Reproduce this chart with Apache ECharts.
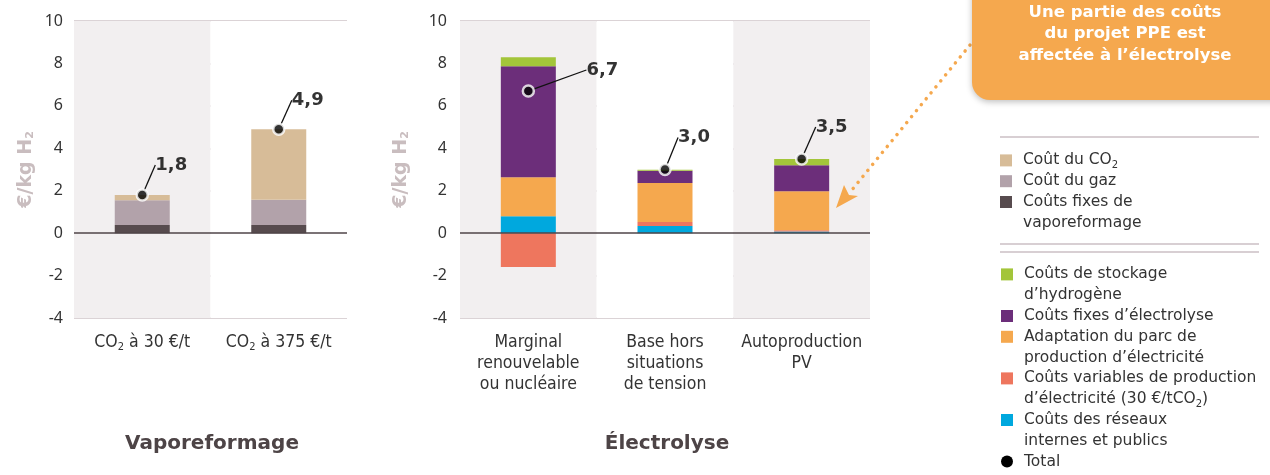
<!DOCTYPE html>
<html>
<head>
<meta charset="utf-8">
<script src="https://cdn.jsdelivr.net/npm/echarts@6/dist/echarts.min.js"></script>
<style>
  html, body { margin: 0; padding: 0; background: #fff; }
  #main { width: 1270px; height: 475px; }
</style>
</head>
<body>
<div id="main"></div>
<script>
// Vaporeformage
const vapoCats = ['CO2 à 30 €/t', 'CO2 à 375 €/t']
const vapoFixes = [0.38, 0.38]
const vapoGaz = [1.17, 1.19]
const vapoCO2 = [0.25, 3.33]
const vapoTotal = [1.8, 4.9]

// Electrolyse
const elecCats = ['Marginal\nrenouvelable\nou nucléaire', 'Base hors\nsituations\nde tension', 'Autoproduction\nPV']
const elecReseaux = [0.8, 0.34, 0.08]
const elecVariables = [-1.6, 0.19, 0.06]
const elecAdaptation = [1.84, 1.83, 1.84]
const elecFixes = [5.23, 0.58, 1.22]
const elecStockage = [0.42, 0.05, 0.3]
const elecTotal = [6.7, 3.0, 3.5]

const yMin = -4, yMax = 10, yStep = 2

const vapoNames = ['Coût du CO2', 'Coût du gaz', 'Coûts fixes de vaporeformage']
const vapoColors = ['#d7bc98', '#b2a2aa', '#574b4e']
const vapoLegendLines = [['Coût du CO{sub|2}'], ['Coût du gaz'], ['Coûts fixes de', 'vaporeformage']]

const elecNames = ['Coûts de stockage d’hydrogène', 'Coûts fixes d’électrolyse', 'Adaptation du parc de production d’électricité',
  'Coûts variables de production d’électricité', 'Coûts des réseaux internes et publics', 'Total']
const elecColors = ['#a3c53a', '#6c2e7a', '#f5a84e', '#ee765e', '#00a8de', '#000000']
const elecLegendLines = [['Coûts de stockage', 'd’hydrogène'], ['Coûts fixes d’électrolyse'], ['Adaptation du parc de', 'production d’électricité'],
  ['Coûts variables de production', 'd’électricité (30 €/tCO{sub|2})'], ['Coûts des réseaux', 'internes et publics'], ['Total']]

// leader offsets of the total labels
const vapoLabelShift = [[29, -30], [29, -29]]
const elecLabelShift = [[74, -21], [29, -32], [30, -32]]

const chart = echarts.init(document.getElementById('main'))

const tickFont = "'Noto Sans', sans-serif"
const catFont = "'Liberation Sans Narrow', 'DejaVu Sans Condensed', sans-serif"
const boldFont = "'DejaVu Sans', Verdana, sans-serif"

function yAxisFor(gridIndex, gap) {
  return {
    type: 'value', gridIndex: gridIndex, min: yMin, max: yMax, interval: yStep,
    name: '€/kg H{sub|2}', nameLocation: 'middle', nameRotate: 90, nameGap: gap,
    nameTextStyle: {
      fontFamily: boldFont, fontWeight: 'bold', fontSize: 19, color: '#c9bdbf',
      rich: { sub: { fontFamily: boldFont, fontWeight: 'bold', fontSize: 11, color: '#c9bdbf', verticalAlign: 'bottom', padding: [7, 0, 0, 0] } }
    },
    axisLine: { show: false }, axisTick: { show: false },
    axisLabel: { fontFamily: tickFont, fontSize: 16, color: '#333', margin: gridIndex ? 13 : 11 },
    splitLine: { lineStyle: { color: '#cfc4c8', width: 1.5 } }
  }
}

function xAxisFor(gridIndex, cats) {
  return {
    type: 'category', gridIndex: gridIndex, data: cats,
    axisLine: { show: false, onZero: false }, axisTick: { show: false },
    axisLabel: {
      fontFamily: catFont, fontSize: 17.5, color: '#333', margin: 14, lineHeight: 21, interval: 0,
      formatter: v => v.replace('CO2', 'CO{sub|2}'),
      rich: { sub: { fontFamily: catFont, fontSize: 11, color: '#333', verticalAlign: 'bottom', padding: [7, 0, 0, 0] } }
    },
    splitArea: { show: true, areaStyle: { color: ['#f2eff0', '#ffffff'] } }
  }
}

function barSeries(name, data, color, gi, stack) {
  return {
    name: name, type: 'bar', stack: stack, xAxisIndex: gi, yAxisIndex: gi,
    data: data, barWidth: 55, itemStyle: { color: color }, emphasis: { disabled: true }
  }
}

function zeroLine() {
  return { silent: true, symbol: 'none', label: { show: false }, data: [{ yAxis: 0 }],
    lineStyle: { color: '#4f4548', width: 1.5, type: 'solid' } }
}

function totalSeries(data, gi, shifts) {
  return {
    name: 'Total', type: 'scatter', xAxisIndex: gi, yAxisIndex: gi, data: data, z: 5,
    symbol: 'circle', symbolSize: 11,
    itemStyle: { color: '#000', borderColor: '#fff', borderWidth: 2.5 },
    label: {
      show: true, position: 'inside', fontFamily: boldFont, fontWeight: 'bold', fontSize: 18, color: '#000',
      textBorderWidth: 0,
      formatter: p => p.value.toFixed(1).replace('.', ',')
    },
    labelLayout: p => ({ dx: shifts[p.dataIndex][0], dy: shifts[p.dataIndex][1] }),
    labelLine: { show: true, lineStyle: { color: '#111', width: 1.3 } },
    emphasis: { disabled: true }
  }
}

function legendFor(names, colors, lines, top) {
  const rich = {
    gap: { width: 11 },
    ind: { width: 23 },
    sub: { fontFamily: boldFont, fontSize: 10, color: '#333', verticalAlign: 'bottom', padding: [6, 0, 0, 0] }
  }
  colors.forEach((c, i) => {
    rich['b' + i] = { width: 12, height: 12, backgroundColor: c, borderRadius: names[i] === 'Total' ? 6 : 0 }
  })
  return {
    orient: 'vertical', left: 995, top: top, padding: 0, itemGap: 0,
    itemWidth: 0, itemHeight: 0, data: names, selectedMode: false,
    textStyle: { fontFamily: boldFont, fontSize: 15.5, color: '#333', lineHeight: 20.8, rich: rich },
    formatter: name => {
      const i = names.indexOf(name)
      const l = lines[i]
      return '{b' + i + '|}{gap|}' + l[0] + (l[1] ? '\n{ind|}' + l[1] : '')
    }
  }
}

const vapoSeries = [
  barSeries(vapoNames[2], vapoFixes, vapoColors[2], 0, 'vapo'),
  barSeries(vapoNames[1], vapoGaz, vapoColors[1], 0, 'vapo'),
  barSeries(vapoNames[0], vapoCO2, vapoColors[0], 0, 'vapo'),
  totalSeries(vapoTotal, 0, vapoLabelShift)
]
vapoSeries[0].markLine = zeroLine()

const elecSeries = [
  barSeries(elecNames[4], elecReseaux, elecColors[4], 1, 'elec'),
  barSeries(elecNames[3], elecVariables, elecColors[3], 1, 'elec'),
  barSeries(elecNames[2], elecAdaptation, elecColors[2], 1, 'elec'),
  barSeries(elecNames[1], elecFixes, elecColors[1], 1, 'elec'),
  barSeries(elecNames[0], elecStockage, elecColors[0], 1, 'elec'),
  totalSeries(elecTotal, 1, elecLabelShift)
]
elecSeries[0].markLine = zeroLine()

const orange = '#f5a84e'

chart.setOption({
  backgroundColor: '#fff',
  animation: false,
  grid: [
    { left: 74, top: 21, width: 273, height: 297 },
    { left: 460, top: 21, width: 410, height: 297 }
  ],
  xAxis: [xAxisFor(0, vapoCats), xAxisFor(1, elecCats)],
  yAxis: [yAxisFor(0, 38), yAxisFor(1, 49)],
  legend: [
    legendFor(vapoNames, vapoColors, vapoLegendLines, 150),
    legendFor(elecNames, elecColors, elecLegendLines, 264)
  ],
  series: vapoSeries.concat(elecSeries),
  graphic: [
    // callout
    { type: 'rect', shape: { x: 972, y: -30, width: 330, height: 130, r: 18 }, z: 10,
      style: { fill: orange, shadowBlur: 6, shadowColor: 'rgba(0,0,0,0.25)', shadowOffsetY: 2 } },
    { type: 'text', z: 11, style: {
      text: 'Une partie des coûts\ndu projet PPE est\naffectée à l’électrolyse',
      x: 1125, y: 1.5, align: 'center', verticalAlign: 'top', lineHeight: 21.5,
      font: 'bold 16.5px ' + boldFont, fill: '#fff' } },
    { type: 'polyline', z: 9, shape: { points: [[970, 45], [851, 191]] },
      style: { stroke: orange, lineWidth: 3.5, lineDash: [0.1, 7.6], lineCap: 'round', fill: null } },
    { type: 'polygon', z: 9, shape: { points: [[836, 208], [844, 185], [849, 195], [858, 196]] },
      style: { fill: orange } },
    // legend separators
    { type: 'line', shape: { x1: 1000, y1: 137, x2: 1259, y2: 137 }, style: { stroke: '#d8cfd3', lineWidth: 2 } },
    { type: 'line', shape: { x1: 1000, y1: 244, x2: 1259, y2: 244 }, style: { stroke: '#d8cfd3', lineWidth: 2 } },
    { type: 'line', shape: { x1: 1000, y1: 252, x2: 1259, y2: 252 }, style: { stroke: '#d8cfd3', lineWidth: 2 } },
    // group titles
    { type: 'text', style: { text: 'Vaporeformage', x: 212, y: 444, align: 'center', verticalAlign: 'middle',
      font: 'bold 20px ' + boldFont, fill: '#4d4446' } },
    { type: 'text', style: { text: 'Électrolyse', x: 667, y: 444, align: 'center', verticalAlign: 'middle',
      font: 'bold 20px ' + boldFont, fill: '#4d4446' } }
  ]
})
</script>
</body>
</html>
